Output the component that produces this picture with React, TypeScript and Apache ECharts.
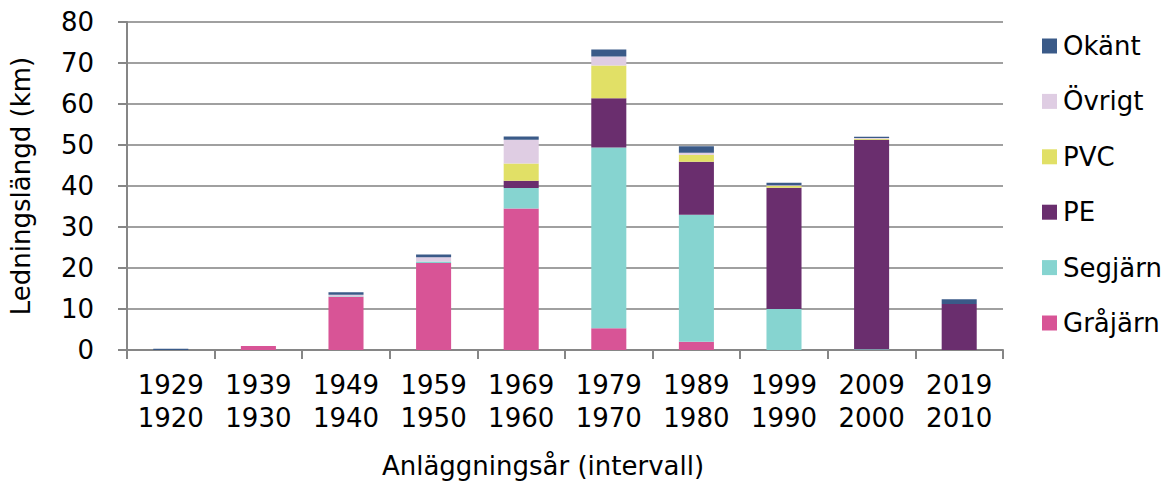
import React, { useEffect, useRef } from "react";
import * as echarts from "echarts";

const categories = ["1929\n1920", "1939\n1930", "1949\n1940", "1959\n1950", "1969\n1960", "1979\n1970", "1989\n1980", "1999\n1990", "2009\n2000", "2019\n2010"];
const grajarn = [0, 1.0, 13.0, 21.2, 34.5, 5.3, 2.0, 0, 0, 0];
const segjarn = [0, 0, 0.1, 0.4, 5.0, 44.1, 31.0, 10.0, 0.2, 0];
const pe = [0, 0, 0, 0, 1.8, 12.0, 12.9, 29.6, 51.1, 11.2];
const pvc = [0, 0, 0, 0, 4.2, 8.0, 1.7, 0.4, 0.2, 0];
const ovrigt = [0, 0, 0.4, 1.0, 5.8, 2.2, 0.5, 0.2, 0.2, 0];
const okant = [0.3, 0, 0.6, 0.7, 0.8, 1.7, 1.6, 0.6, 0.3, 1.2];
const yTicks = [0, 10, 20, 30, 40, 50, 60, 70, 80];

const FONT = "DejaVu Sans";
const FS = 26;

export default function App() {
  const ref = useRef<HTMLDivElement>(null);
  useEffect(() => {
    document.body.style.margin = "0";
    const chart = echarts.init(ref.current!, null, { renderer: "svg" });
    const mk = (name: string, data: number[], color: string) => ({
      name,
      type: "bar",
      stack: "total",
      data,
      barWidth: "40%",
      itemStyle: { color },
    });
    chart.setOption({
      animation: false,
      textStyle: { fontFamily: FONT },
      grid: { left: 115, right: 170, top: 22, bottom: 133 },
      legend: {
        orient: "vertical",
        left: 1042,
        top: 31,
        padding: 0,
        itemWidth: 15,
        itemHeight: 15,
        itemGap: 25.4,
        icon: "rect",
        textStyle: { fontFamily: FONT, fontSize: FS, lineHeight: 30, color: "#000", padding: [0, 0, 0, 1] },
        data: ["Okänt", "Övrigt", "PVC", "PE", "Segjärn", "Gråjärn"],
      },
      xAxis: {
        type: "category",
        data: categories,
        axisLine: { lineStyle: { color: "#868686", width: 2 } },
        axisTick: { show: true, alignWithLabel: false, length: 9, lineStyle: { color: "#868686", width: 2 } },
        axisLabel: { fontFamily: FONT, fontSize: FS, color: "#000", lineHeight: 33, margin: 18, interval: 0 },
      },
      yAxis: {
        type: "value",
        min: yTicks[0],
        max: yTicks[yTicks.length - 1],
        interval: 10,
        name: "Ledningslängd (km)",
        nameLocation: "middle",
        nameGap: 93,
        nameTextStyle: { fontFamily: FONT, fontSize: FS, color: "#000" },
        axisLine: { show: true, lineStyle: { color: "#868686", width: 2 } },
        axisTick: { show: true, length: 9, lineStyle: { color: "#868686", width: 2 } },
        axisLabel: { fontFamily: FONT, fontSize: FS, color: "#000", margin: 33 },
        splitLine: { lineStyle: { color: "#A0A0A0", width: 2 } },
      },
      graphic: [
        {
          type: "text",
          x: 543,
          y: 466,
          style: {
            text: "Anläggningsår (intervall)",
            font: `${FS}px '${FONT}'`,
            fill: "#000",
            align: "center",
            verticalAlign: "middle",
          },
        },
      ],
      series: [
        mk("Gråjärn", grajarn, "#D85496"),
        mk("Segjärn", segjarn, "#86D4D0"),
        mk("PE", pe, "#6A2E6E"),
        mk("PVC", pvc, "#E1E066"),
        mk("Övrigt", ovrigt, "#DFCDE3"),
        mk("Okänt", okant, "#3A5A88"),
      ],
    });
    return () => chart.dispose();
  }, []);
  return <div ref={ref} style={{ width: 1173, height: 483 }} />;
}
